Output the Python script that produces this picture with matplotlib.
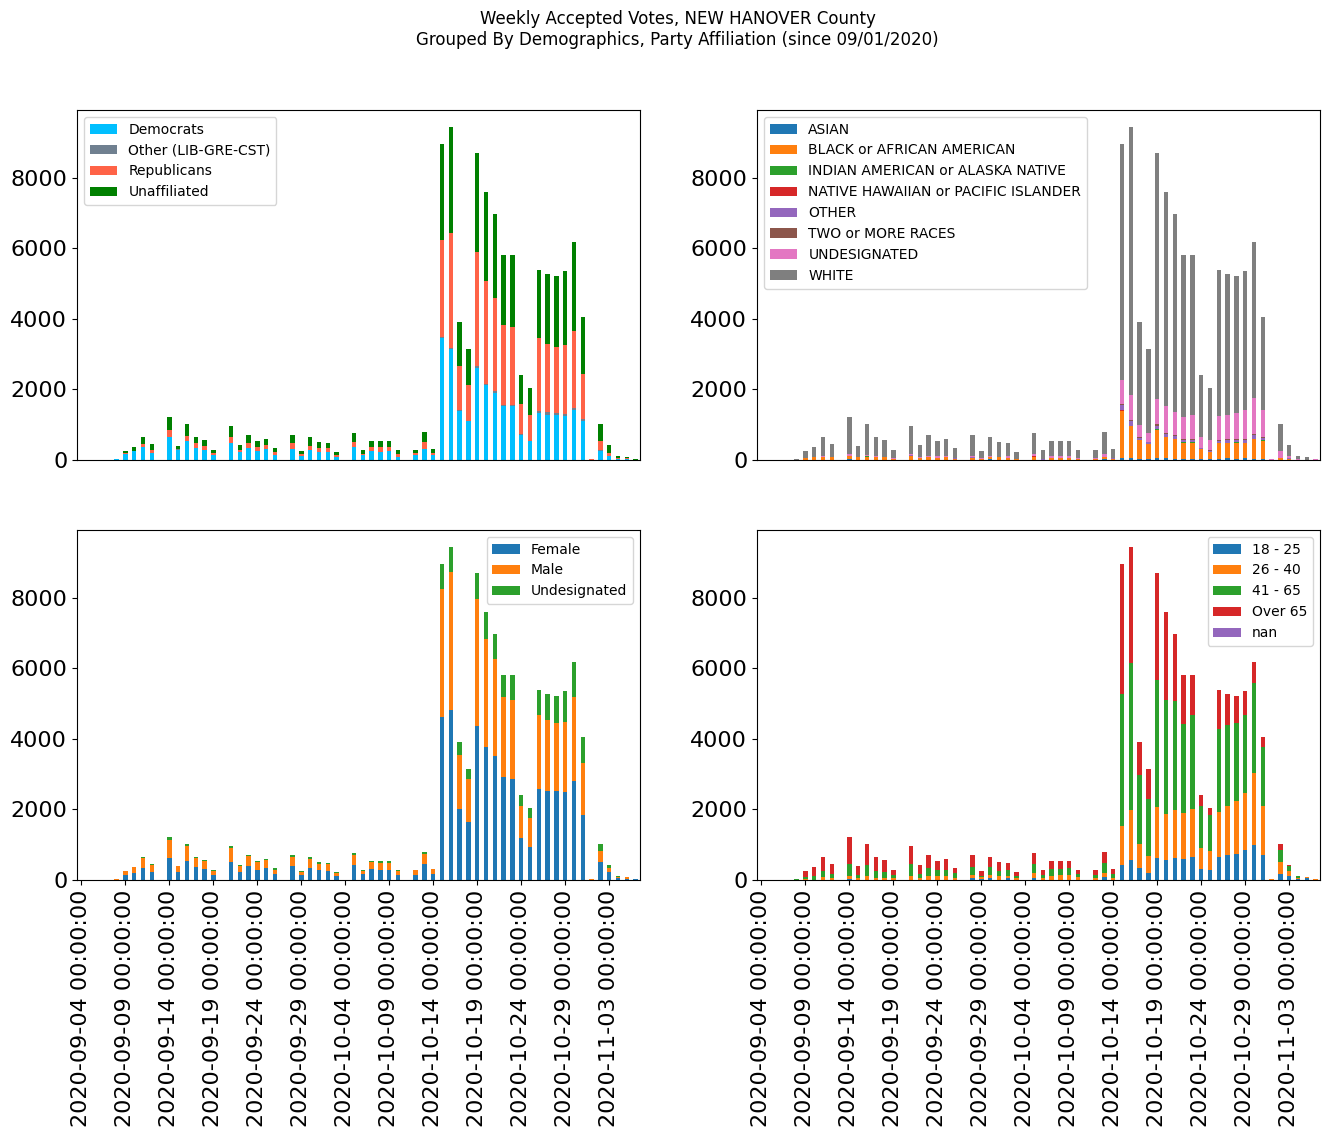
import matplotlib

matplotlib.use("Agg")
import matplotlib.pyplot as plt
import numpy as np
import pandas as pd

# one bar per day, 2020-09-04 .. 2020-11-06
DATES = pd.date_range("2020-09-04", periods=64, freq="D")

# --- party affiliation ---
DEM = [0, 0, 0, 0, 28, 180, 246, 369,
       199, 0, 643, 293, 530, 350, 293, 142,
       0, 473, 236, 350, 255, 312, 142, 0,
       300, 123, 280, 236, 236, 85, 0, 369,
       142, 255, 236, 246, 85, 0, 142, 312,
       142, 3450, 3140, 1390, 1097, 2620, 2128, 1901,
       1531, 1531, 719, 539, 1333, 1277, 1277, 1248,
       1428, 1106, 0, 265, 123, 28, 28, 0]
OTH = [0, 0, 0, 0, 0, 0, 0, 0,
       0, 0, 0, 19, 0, 0, 0, 0,
       0, 0, 0, 0, 0, 0, 0, 0,
       15, 0, 10, 0, 0, 0, 0, 0,
       0, 0, 0, 0, 0, 0, 0, 0,
       0, 30, 47, 28, 0, 47, 38, 57,
       20, 20, 28, 0, 57, 85, 57, 57,
       47, 57, 0, 19, 0, 0, 0, 0]
REP = [0, 0, 0, 0, 0, 28, 15, 85,
       85, 0, 208, 10, 151, 132, 113, 57,
       0, 180, 47, 132, 113, 113, 85, 0,
       170, 47, 113, 104, 104, 57, 0, 142,
       28, 113, 132, 123, 85, 0, 57, 199,
       57, 2762, 3253, 1249, 1031, 3234, 2912, 2638,
       2279, 2222, 842, 738, 2071, 1929, 1872, 1958,
       2185, 1277, 28, 255, 76, 28, 28, 0]
UNA = [0, 0, 0, 0, 0, 47, 108, 199,
       170, 0, 369, 75, 340, 171, 161, 85,
       0, 312, 143, 227, 171, 171, 113, 0,
       224, 85, 250, 171, 142, 85, 0, 255,
       114, 171, 171, 170, 114, 0, 85, 283,
       113, 2723, 3008, 1248, 1021, 2809, 2525, 2383,
       1986, 2043, 823, 766, 1929, 1986, 2014, 2099,
       2525, 1617, 0, 482, 227, 57, 29, 28]

# --- race ---
ASIAN = [0, 0, 0, 0, 0, 0, 0, 0,
         0, 0, 28, 0, 0, 0, 0, 0,
         0, 0, 0, 0, 0, 0, 0, 0,
         0, 0, 19, 0, 0, 0, 0, 0,
         0, 0, 0, 0, 0, 0, 0, 19,
         0, 66, 66, 28, 28, 66, 66, 28,
         28, 28, 28, 28, 28, 66, 28, 66,
         28, 28, 0, 10, 0, 0, 0, 0]
BLACK = [0, 0, 0, 0, 0, 66, 75, 85,
         76, 0, 76, 85, 95, 76, 76, 38,
         0, 120, 66, 76, 66, 76, 19, 0,
         57, 38, 57, 76, 57, 19, 0, 95,
         0, 57, 57, 57, 38, 0, 30, 57,
         28, 1324, 908, 539, 426, 785, 587, 568,
         454, 454, 284, 199, 454, 416, 454, 416,
         568, 511, 0, 47, 28, 0, 0, 0]
INDIAN = [0, 0, 0, 0, 0, 0, 0, 0,
          0, 0, 0, 0, 28, 0, 0, 0,
          0, 0, 0, 0, 0, 0, 0, 0,
          0, 0, 0, 0, 0, 10, 0, 0,
          0, 0, 0, 0, 0, 0, 0, 0,
          0, 10, 0, 0, 0, 28, 0, 0,
          29, 29, 0, 0, 0, 0, 29, 0,
          0, 28, 0, 0, 0, 0, 0, 0]
HAWAIIAN = [0, 0, 0, 0, 0, 0, 0, 0,
            0, 0, 0, 0, 0, 0, 0, 0,
            0, 0, 0, 0, 0, 0, 0, 0,
            0, 0, 0, 0, 0, 0, 0, 19,
            0, 0, 0, 0, 0, 0, 0, 0,
            0, 10, 0, 0, 0, 0, 0, 0,
            0, 0, 0, 0, 0, 0, 0, 0,
            0, 0, 0, 0, 0, 0, 0, 0]
OTHER_RACE = [0, 0, 0, 0, 0, 0, 0, 0,
              0, 0, 0, 0, 0, 0, 0, 0,
              0, 10, 0, 0, 0, 0, 28, 0,
              28, 0, 0, 0, 0, 0, 0, 0,
              38, 0, 0, 0, 0, 0, 0, 0,
              19, 161, 132, 67, 57, 86, 85, 85,
              56, 56, 28, 28, 57, 85, 56, 85,
              113, 57, 0, 0, 28, 0, 0, 0]
TWO_PLUS = [0, 0, 0, 0, 0, 0, 0, 0,
            0, 0, 0, 0, 0, 0, 0, 0,
            0, 0, 0, 0, 0, 0, 0, 0,
            0, 0, 0, 0, 0, 0, 0, 0,
            0, 0, 0, 0, 0, 0, 0, 0,
            0, 19, 29, 28, 0, 56, 28, 28,
            29, 29, 0, 29, 28, 29, 19, 29,
            29, 29, 0, 0, 0, 0, 0, 0]
UNDES_RACE = [0, 0, 0, 0, 0, 0, 15, 28,
              20, 0, 66, 10, 28, 47, 19, 28,
              0, 40, 19, 38, 47, 38, 0, 0,
              38, 28, 38, 19, 57, 0, 0, 57,
              0, 57, 57, 57, 28, 0, 30, 85,
              0, 671, 709, 331, 255, 710, 766, 653,
              624, 681, 313, 283, 681, 681, 747, 823,
              1021, 766, 28, 199, 57, 28, 0, 28]
WHITE = [0, 0, 0, 0, 30, 189, 279, 540,
         358, 0, 1050, 302, 870, 530, 472, 218,
         0, 795, 341, 595, 426, 482, 293, 0,
         586, 189, 539, 416, 368, 198, 0, 595,
         246, 425, 425, 425, 218, 0, 224, 633,
         265, 6704, 7604, 2922, 2383, 6979, 6071, 5617,
         4596, 4539, 1759, 1476, 4142, 4000, 3887, 3943,
         4426, 2638, 0, 765, 313, 85, 85, 0]

# --- gender ---
FEMALE = [0, 0, 0, 0, 0, 142, 199, 340,
          227, 0, 624, 227, 539, 369, 312, 142,
          0, 511, 227, 397, 284, 340, 170, 0,
          397, 142, 340, 284, 255, 113, 0, 426,
          170, 312, 284, 284, 142, 0, 142, 460,
          170, 4624, 4823, 2014, 1646, 4369, 3773, 3518,
          2922, 2865, 1192, 936, 2582, 2525, 2525, 2497,
          2809, 1844, 0, 511, 227, 57, 28, 28]
MALE = [0, 0, 0, 0, 28, 113, 170, 284,
        199, 0, 511, 170, 426, 255, 227, 113,
        0, 397, 170, 284, 227, 227, 114, 0,
        256, 85, 256, 170, 199, 86, 0, 283,
        85, 199, 198, 198, 113, 0, 142, 285,
        142, 3632, 3915, 1532, 1219, 3603, 3064, 2752,
        2270, 2242, 907, 823, 2099, 2014, 1929, 1986,
        2383, 1475, 28, 312, 113, 28, 57, 0]
UNDES_GENDER = [0, 0, 0, 0, 0, 0, 0, 29,
                28, 0, 85, 0, 56, 29, 28, 29,
                0, 57, 29, 28, 28, 29, 56, 0,
                56, 28, 57, 57, 28, 28, 0, 57,
                29, 28, 57, 57, 29, 0, 0, 49,
                0, 709, 710, 369, 284, 738, 766, 709,
                624, 709, 313, 284, 709, 738, 766, 879,
                993, 738, 0, 198, 86, 28, 0, 0]

# --- age group ---
AGE_18_25 = [0, 0, 0, 0, 0, 0, 0, 10,
             0, 0, 28, 0, 0, 0, 0, 0,
             0, 0, 0, 0, 0, 0, 0, 0,
             57, 28, 57, 0, 57, 0, 0, 57,
             0, 0, 0, 0, 0, 0, 0, 85,
             0, 426, 567, 340, 199, 624, 567, 624,
             596, 653, 312, 284, 653, 709, 738, 851,
             993, 709, 0, 170, 113, 28, 57, 0]
AGE_26_40 = [0, 0, 0, 0, 0, 28, 10, 75,
             57, 0, 85, 57, 113, 57, 57, 57,
             0, 113, 57, 113, 113, 113, 57, 0,
             85, 48, 85, 113, 56, 57, 0, 142,
             57, 113, 142, 142, 85, 0, 57, 114,
             57, 1106, 1419, 681, 482, 1447, 1305, 1362,
             1305, 1361, 596, 539, 1277, 1390, 1503, 1617,
             2043, 1390, 28, 341, 142, 28, 28, 28]
AGE_41_65 = [0, 0, 0, 0, 28, 57, 103, 170,
             113, 0, 341, 85, 313, 198, 170, 85,
             0, 341, 113, 227, 171, 171, 142, 0,
             227, 37, 227, 142, 171, 56, 0, 255,
             85, 199, 170, 198, 85, 0, 85, 283,
             113, 3745, 4171, 1958, 1617, 3603, 3235, 3092,
             2525, 2667, 1191, 1021, 2354, 2298, 2213, 2213,
             2553, 1674, 0, 340, 142, 57, 0, 0]
AGE_OVER_65 = [0, 0, 0, 0, 0, 170, 256, 398,
               284, 0, 766, 255, 595, 398, 340, 142,
               0, 511, 256, 369, 255, 312, 141, 0,
               340, 142, 284, 256, 198, 114, 0, 312,
               142, 227, 227, 199, 114, 0, 142, 312,
               142, 3688, 3291, 936, 851, 3036, 2496, 1901,
               1390, 1135, 313, 199, 1106, 880, 766, 681,
               596, 284, 0, 170, 29, 0, 0, 0]
AGE_NAN = [0, 0, 0, 0, 0, 0, 0, 0,
           0, 0, 0, 0, 0, 0, 0, 0,
           0, 0, 0, 0, 0, 0, 0, 0,
           0, 0, 0, 0, 0, 0, 0, 0,
           0, 0, 0, 0, 0, 0, 0, 0,
           0, 0, 0, 0, 0, 0, 0, 0,
           0, 0, 0, 0, 0, 0, 0, 0,
           0, 0, 0, 0, 0, 0, 0, 0]

PANELS = [
    # (series, labels, colors, legend loc)
    ([DEM, OTH, REP, UNA],
     ["Democrats", "Other (LIB-GRE-CST)", "Republicans", "Unaffiliated"],
     ["deepskyblue", "slategray", "tomato", "green"],
     "upper left"),
    ([ASIAN, BLACK, INDIAN, HAWAIIAN, OTHER_RACE, TWO_PLUS, UNDES_RACE, WHITE],
     ["ASIAN", "BLACK or AFRICAN AMERICAN", "INDIAN AMERICAN or ALASKA NATIVE",
      "NATIVE HAWAIIAN or PACIFIC ISLANDER", "OTHER", "TWO or MORE RACES",
      "UNDESIGNATED", "WHITE"],
     ["C0", "C1", "C2", "C3", "C4", "C5", "C6", "C7"],
     "upper left"),
    ([FEMALE, MALE, UNDES_GENDER],
     ["Female", "Male", "Undesignated"],
     ["C0", "C1", "C2"],
     "upper right"),
    ([AGE_18_25, AGE_26_40, AGE_41_65, AGE_OVER_65, AGE_NAN],
     ["18 - 25", "26 - 40", "41 - 65", "Over 65", "nan"],
     ["C0", "C1", "C2", "C3", "C4"],
     "upper right"),
]

W, H = 1326, 1137
# axes boxes in pixels: (left, top, right, bottom)
BOXES = [(77, 110, 640, 460), (757, 110, 1320, 460),
         (77, 530, 640, 880), (757, 530, 1320, 880)]


def draw_stacked(ax, series, labels, colors, loc):
    x = np.arange(len(DATES))
    bottom = np.zeros(len(DATES))
    for values, label, color in zip(series, labels, colors):
        values = np.asarray(values, dtype=float)
        ax.bar(x, values, width=0.5, bottom=bottom, color=color, label=label)
        bottom += values
    ax.set_xlim(-0.5, len(DATES) - 0.5)
    ax.set_ylim(0, 9448 * 1.05)
    ax.set_yticks([0, 2000, 4000, 6000, 8000])
    ax.tick_params(axis="y", labelsize=16)
    ax.legend(loc=loc, fontsize=10)


fig = plt.figure(figsize=(W / 100, H / 100), dpi=100)
axes = []
for (l, t, r, b) in BOXES:
    axes.append(fig.add_axes([l / W, 1 - b / H, (r - l) / W, (b - t) / H]))

for ax, (series, labels, colors, loc) in zip(axes, PANELS):
    draw_stacked(ax, series, labels, colors, loc)

tick_idx = list(range(0, len(DATES), 5))
tick_labels = [str(DATES[i]) for i in tick_idx]
for i, ax in enumerate(axes):
    if i < 2:
        # top row shares the x axis with the row below: no ticks, no labels
        ax.set_xticks([])
    else:
        ax.set_xticks(tick_idx)
        ax.set_xticklabels(tick_labels, rotation=90, fontsize=16)

fig.suptitle("Weekly Accepted Votes, NEW HANOVER County\n"
             "Grouped By Demographics, Party Affiliation (since 09/01/2020)",
             fontsize=12, x=0.511, y=0.991)

fig.savefig("out.png", dpi=100)
